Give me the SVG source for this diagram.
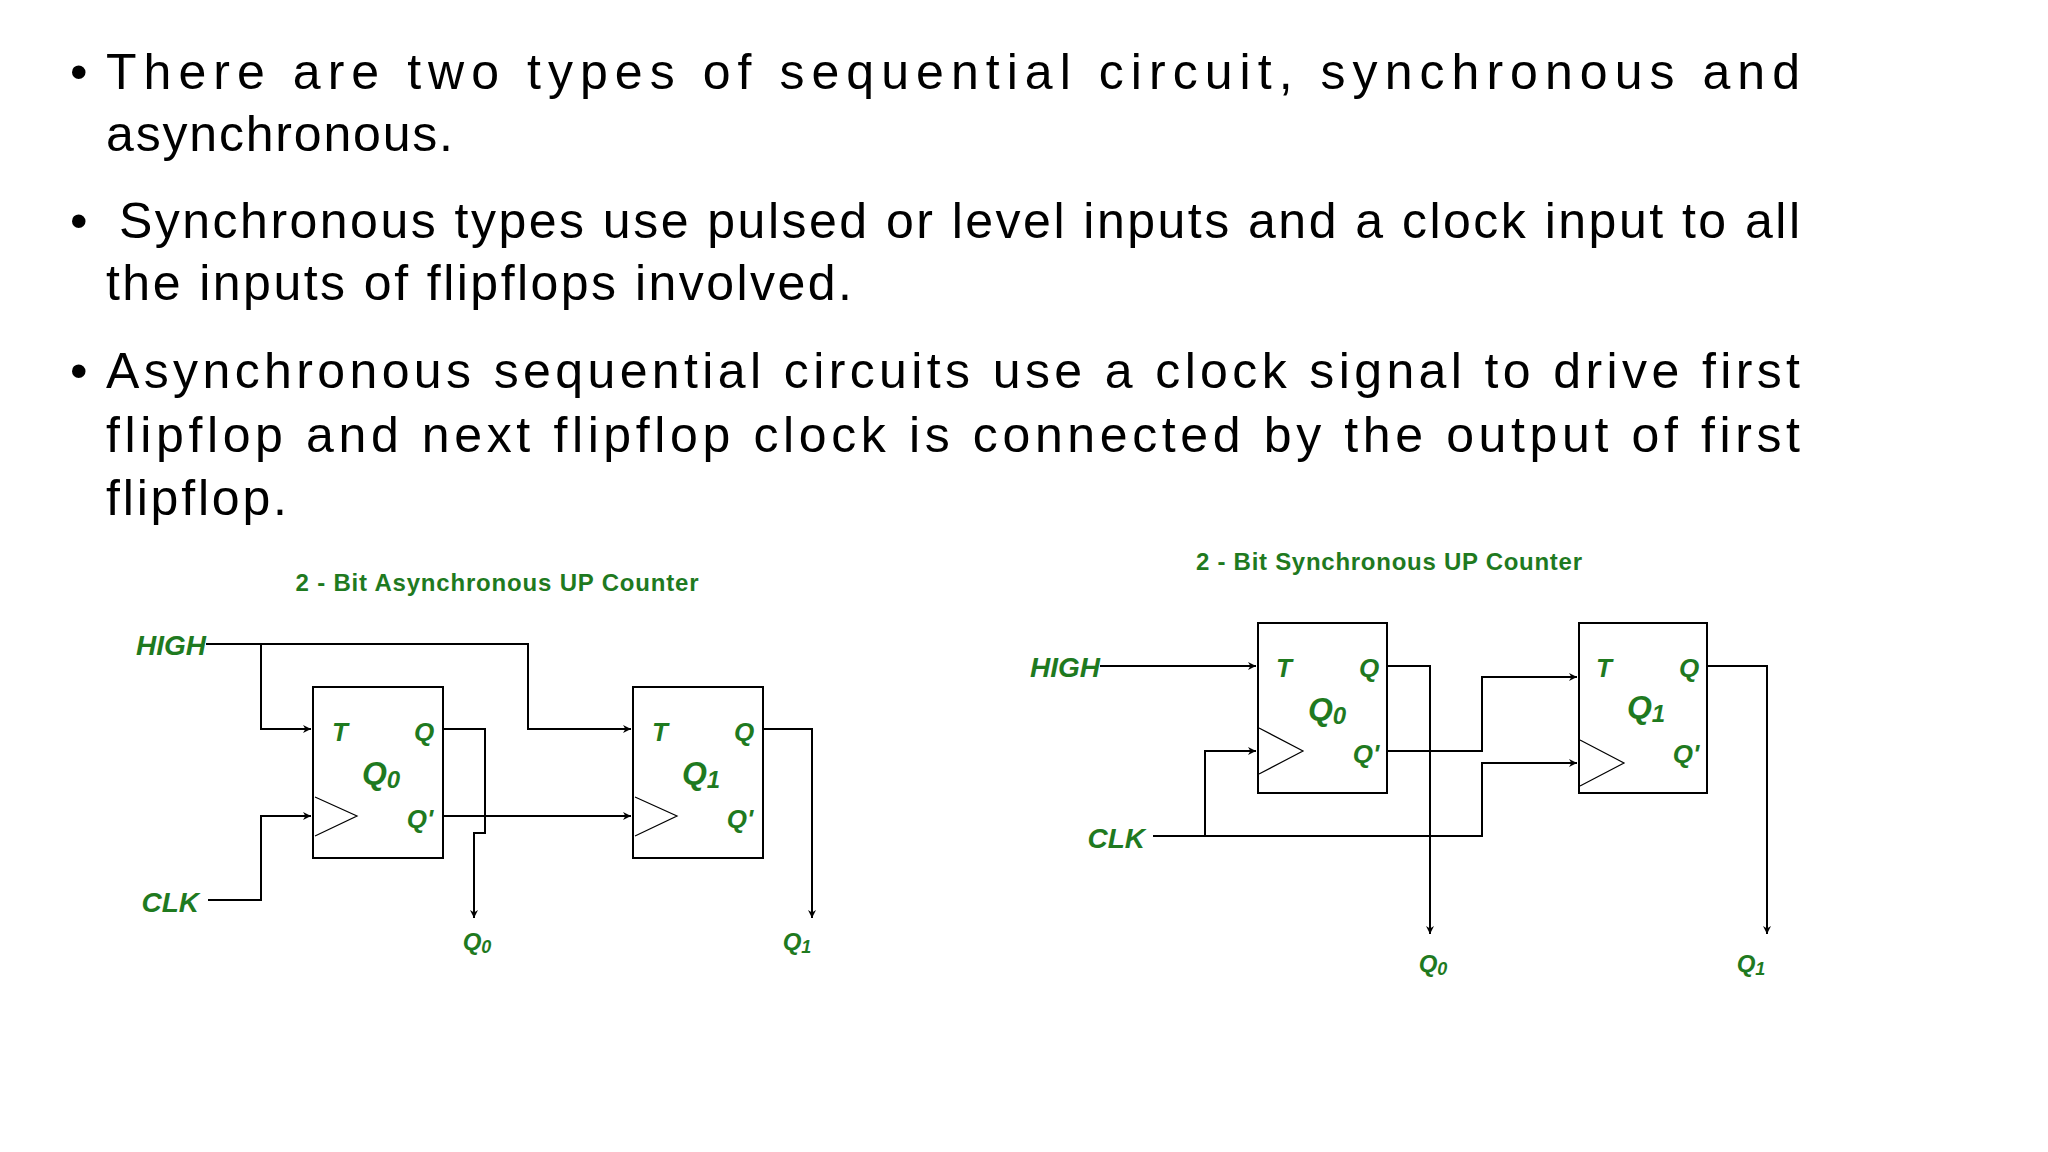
<svg xmlns="http://www.w3.org/2000/svg" width="2048" height="1152" viewBox="0 0 2048 1152">
<defs>
<marker id="ah" viewBox="0 0 10 10" refX="10" refY="5" markerWidth="8" markerHeight="8" markerUnits="userSpaceOnUse" orient="auto"><path d="M0,0 L10,5 L0,10 L3,5 z" fill="#000"/></marker>
<style>
.b{font-family:"Liberation Sans",Arial,sans-serif;font-size:50px;fill:#000}
.t{font-family:"Liberation Sans",Arial,sans-serif;font-weight:bold;font-size:24px;fill:#1f7a1f}
.l{font-family:"Liberation Sans",Arial,sans-serif;font-weight:bold;font-style:italic;fill:#1f7a1f}
.w{fill:none;stroke:#000;stroke-width:2}
.bx{fill:#fff;stroke:#000;stroke-width:2}
.tr{fill:none;stroke:#000;stroke-width:1.2}
</style>
</defs>
<rect width="2048" height="1152" fill="#fff"/>
<g id="text">
<text class="b" x="70" y="89">•</text>
<text class="b" x="106" y="89" textLength="1694">There are two types of sequential circuit, synchronous and</text>
<text class="b" x="106" y="151" textLength="347">asynchronous.</text>
<text class="b" x="70" y="238">•</text>
<text class="b" x="119" y="238" textLength="1681">Synchronous types use pulsed or level inputs and a clock input to all</text>
<text class="b" x="106" y="300" textLength="746">the inputs of flipflops involved.</text>
<text class="b" x="70" y="388">•</text>
<text class="b" x="106" y="388" textLength="1694">Asynchronous sequential circuits use a clock signal to drive first</text>
<text class="b" x="106" y="452" textLength="1694">flipflop and next flipflop clock is connected by the output of first</text>
<text class="b" x="106" y="515" textLength="181">flipflop.</text>
</g>
<g id="async-title"><text class="t" x="497" y="591" text-anchor="middle" textLength="403">2 - Bit Asynchronous UP Counter</text></g>
<g id="sync-title"><text class="t" x="1389" y="570" text-anchor="middle" textLength="386">2 - Bit Synchronous UP Counter</text></g>
<g id="connectors">
<polyline class="w" points="206,644 528,644 528,729 631,729" marker-end="url(#ah)"/>
<polyline class="w" points="261,644 261,729 311,729" marker-end="url(#ah)"/>
<polyline class="w" points="208,900 261,900 261,816 311,816" marker-end="url(#ah)"/>
<polyline class="w" points="443,729 485,729 485,833 474,833 474,918" marker-end="url(#ah)"/>
<polyline class="w" points="443,816 631,816" marker-end="url(#ah)"/>
<polyline class="w" points="763,729 812,729 812,918" marker-end="url(#ah)"/>
<polyline class="w" points="1100,666 1256,666" marker-end="url(#ah)"/>
<polyline class="w" points="1153,836 1482,836 1482,763 1577,763" marker-end="url(#ah)"/>
<polyline class="w" points="1205,836 1205,751 1256,751" marker-end="url(#ah)"/>
<polyline class="w" points="1387,666 1430,666 1430,934" marker-end="url(#ah)"/>
<polyline class="w" points="1387,751 1482,751 1482,677 1577,677" marker-end="url(#ah)"/>
<polyline class="w" points="1707,666 1767,666 1767,934" marker-end="url(#ah)"/>
</g>
<g id="async-ff0">
<rect class="bx" x="313" y="687" width="130" height="171"/>
<polyline class="tr" points="315,797 357,816 315,836"/>
<text class="l" x="340" y="741" font-size="26" text-anchor="middle">T</text>
<text class="l" x="424" y="741" font-size="26" text-anchor="middle">Q</text>
<text class="l" x="381" y="784" font-size="32" text-anchor="middle">Q<tspan font-size="24" dy="4">0</tspan></text>
<text class="l" x="420" y="828" font-size="26" text-anchor="middle">Q'</text>
</g>
<g id="async-ff1">
<rect class="bx" x="633" y="687" width="130" height="171"/>
<polyline class="tr" points="635,797 677,816 635,836"/>
<text class="l" x="660" y="741" font-size="26" text-anchor="middle">T</text>
<text class="l" x="744" y="741" font-size="26" text-anchor="middle">Q</text>
<text class="l" x="701" y="784" font-size="32" text-anchor="middle">Q<tspan font-size="24" dy="4">1</tspan></text>
<text class="l" x="740" y="828" font-size="26" text-anchor="middle">Q'</text>
</g>
<g id="async-labels">
<text class="l" x="206" y="655" font-size="28" text-anchor="end">HIGH</text>
<text class="l" x="199" y="912" font-size="28" text-anchor="end">CLK</text>
<text class="l" x="477" y="950" font-size="24" text-anchor="middle">Q<tspan font-size="18" dy="3">0</tspan></text>
<text class="l" x="797" y="950" font-size="24" text-anchor="middle">Q<tspan font-size="18" dy="3">1</tspan></text>
</g>
<g id="sync-ff0">
<rect class="bx" x="1258" y="623" width="129" height="170"/>
<polyline class="tr" points="1259,728 1303,751 1259,774"/>
<text class="l" x="1284" y="677" font-size="26" text-anchor="middle">T</text>
<text class="l" x="1369" y="677" font-size="26" text-anchor="middle">Q</text>
<text class="l" x="1327" y="720" font-size="32" text-anchor="middle">Q<tspan font-size="24" dy="4">0</tspan></text>
<text class="l" x="1366" y="763" font-size="26" text-anchor="middle">Q'</text>
</g>
<g id="sync-ff1">
<rect class="bx" x="1579" y="623" width="128" height="170"/>
<polyline class="tr" points="1580,740 1624,763 1580,786"/>
<text class="l" x="1604" y="677" font-size="26" text-anchor="middle">T</text>
<text class="l" x="1689" y="677" font-size="26" text-anchor="middle">Q</text>
<text class="l" x="1646" y="718" font-size="32" text-anchor="middle">Q<tspan font-size="24" dy="4">1</tspan></text>
<text class="l" x="1686" y="763" font-size="26" text-anchor="middle">Q'</text>
</g>
<g id="sync-labels">
<text class="l" x="1100" y="677" font-size="28" text-anchor="end">HIGH</text>
<text class="l" x="1145" y="848" font-size="28" text-anchor="end">CLK</text>
<text class="l" x="1433" y="972" font-size="24" text-anchor="middle">Q<tspan font-size="18" dy="3">0</tspan></text>
<text class="l" x="1751" y="972" font-size="24" text-anchor="middle">Q<tspan font-size="18" dy="3">1</tspan></text>
</g>
</svg>
